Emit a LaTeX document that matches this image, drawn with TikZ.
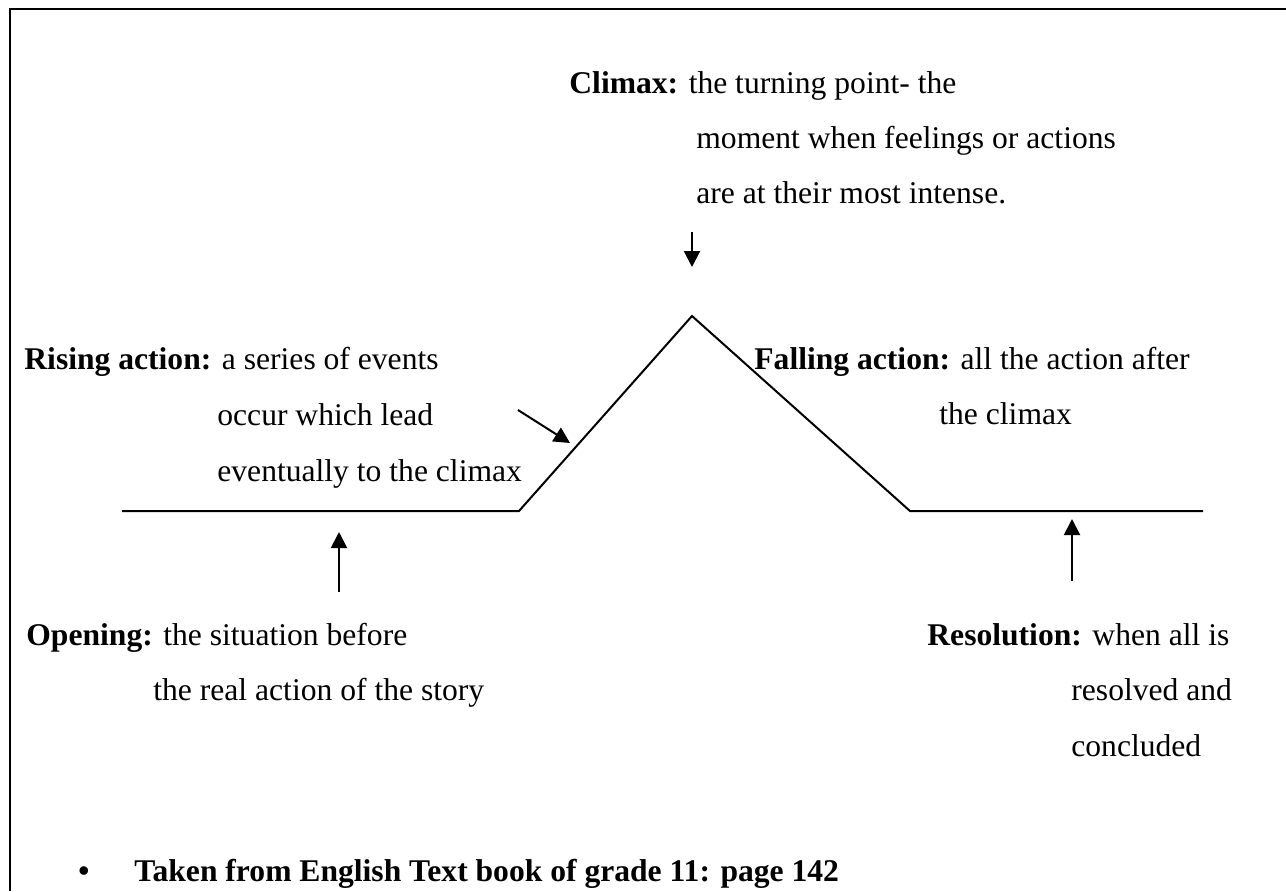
\documentclass[tikz,border=0pt]{standalone}
\usepackage{fontspec}
\setmainfont{Liberation Serif}
\usetikzlibrary{arrows.meta}

\tikzset{
  lbl/.style={anchor=base west, inner sep=0pt, font=\fontsize{15.8pt}{27.75pt}\selectfont},
  plotline/.style={line width=1pt, line join=miter},
  pointer/.style={line width=1pt, -{Triangle[length=8pt, width=8pt]}},
}

\begin{document}
\begin{tikzpicture}[x=0.5pt, y=-0.5pt]
  \useasboundingbox (0,0) rectangle (1286,891);
  % frame
  \draw[line width=1pt] (10,891) -- (10,9) -- (1286,9);
  % plot
  \coordinate (P1) at (122,511);
  \coordinate (P2) at (519,511);
  \coordinate (P3) at (692,316);
  \coordinate (P4) at (910,511);
  \coordinate (P5) at (1203,511);
  \draw[plotline] (P1) -- (P2) -- (P3) -- (P4) -- (P5);
  % labels
  \node[lbl] (climax1) at (569,93) {\textbf{Climax:} the turning point- the};
  \node[lbl] (climax2) at (696,148) {moment when feelings or actions};
  \node[lbl] (climax3) at (696,203) {are at their most intense.};
  \node[lbl] (rising1) at (24,369) {\textbf{Rising action:} a series of events};
  \node[lbl] (rising2) at (217,425) {occur which lead};
  \node[lbl] (rising3) at (217,481) {eventually to the climax};
  \node[lbl] (falling1) at (754,369) {\textbf{Falling action:} all the action after};
  \node[lbl] (falling2) at (939,424) {the climax};
  \node[lbl] (opening1) at (26,645) {\textbf{Opening:} the situation before};
  \node[lbl] (opening2) at (153,700) {the real action of the story};
  \node[lbl] (resol1) at (927,645) {\textbf{Resolution:} when all is};
  \node[lbl] (resol2) at (1071,700) {resolved and};
  \node[lbl] (resol3) at (1071,756) {concluded};
  \node[lbl] (bullet) at (78,881) {\textbf{\textbullet}};
  \node[lbl] (source) at (134,881) {\textbf{Taken from English Text book of grade 11: page 142}};
  % arrows
  \coordinate (A1) at (692,232);
  \coordinate (A2) at (692,267);
  \coordinate (B1) at (518,410);
  \coordinate (B2) at (570,443);
  \coordinate (C1) at (339,592);
  \coordinate (C2) at (339,532);
  \coordinate (D1) at (1072,581);
  \coordinate (D2) at (1072,519);
  \draw[pointer] (A1) -- (A2);
  \draw[pointer] (B1) -- (B2);
  \draw[pointer] (C1) -- (C2);
  \draw[pointer] (D1) -- (D2);
\end{tikzpicture}
\end{document}
